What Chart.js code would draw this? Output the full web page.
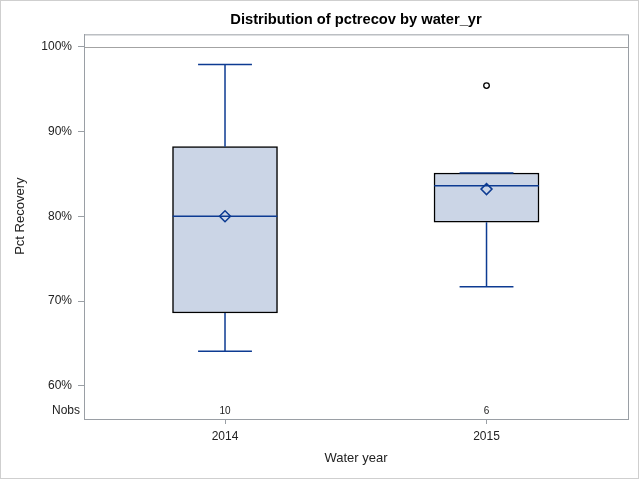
<!DOCTYPE html>
<html><head><meta charset="utf-8">
<script src="https://cdn.jsdelivr.net/npm/chart.js@4"></script>
<style>html,body{margin:0;padding:0;background:#fff}#wrap{width:640px;height:480px}</style>
</head><body><div id="wrap"><canvas id="c" width="640" height="480"></canvas></div>
<script>
// ---- data ----
const categories = ['2014', '2015'];
const whiskerLow = [64.1, 71.7];
const q1 = [68.6, 79.3];
const median = [80.0, 83.6];
const q3 = [88.2, 85.1];
const whiskerHigh = [97.9, 85.1];
const means = [80.0, 83.2];
const outliers = [[], [95.4]];
const nobs = [10, 6];
const yTicks = [60, 70, 80, 90, 100];
const refLine = 100;

// ---- style constants ----
const FONT = "'Liberation Sans', Arial, sans-serif";
const BLUE = '#0d3b92';
const FILL = '#cbd5e6';
const FRAME = '#9a9fa5';
const TEXT = '#222';
const BOX_HALF = 0.2, CAP_HALF = 0.103;

const catX = categories.map((c, i) => i + 1);

function segments() {
  const pts = [];
  const add = (x1, y1, x2, y2) => { pts.push({x: x1, y: y1}, {x: x2, y: y2}, {x: x2, y: null}); };
  catX.forEach((c, i) => {
    add(c, whiskerLow[i], c, q1[i]);
    add(c, q3[i], c, whiskerHigh[i]);
    add(c - CAP_HALF, whiskerLow[i], c + CAP_HALF, whiskerLow[i]);
    add(c - CAP_HALF, whiskerHigh[i], c + CAP_HALF, whiskerHigh[i]);
    add(c - BOX_HALF, median[i], c + BOX_HALF, median[i]);
  });
  return pts;
}

const outlierPts = [];
catX.forEach((c, i) => outliers[i].forEach(v => outlierPts.push({x: c, y: v})));

const decor = {
  id: 'decor',
  beforeDatasetsDraw(chart) {
    const {ctx, chartArea: a, scales: {y}} = chart;
    ctx.save();
    ctx.strokeStyle = '#a3a3a3';
    ctx.lineWidth = 1;
    const ry = Math.round(y.getPixelForValue(refLine)) + 0.5;
    ctx.beginPath(); ctx.moveTo(a.left, ry); ctx.lineTo(a.right, ry); ctx.stroke();
    ctx.restore();
  },
  afterDraw(chart) {
    const {ctx, chartArea: a, scales: {x}} = chart;
    ctx.save();
    ctx.strokeStyle = FRAME; ctx.lineWidth = 1;
    ctx.strokeRect(a.left + 0.5, a.top + 0.5, a.right - a.left, a.bottom - a.top);
    ctx.strokeStyle = '#cfcfcf';
    ctx.strokeRect(0.5, 0.5, 638, 478);
    // Nobs row
    ctx.fillStyle = TEXT;
    ctx.textBaseline = 'middle';
    ctx.font = '12px ' + FONT;
    ctx.textAlign = 'right';
    const ny = a.bottom - 8;
    ctx.fillText('Nobs', 80, ny);
    ctx.font = '10px ' + FONT;
    ctx.textAlign = 'center';
    catX.forEach((c, i) => ctx.fillText(String(nobs[i]), x.getPixelForValue(c), ny));
    // y axis title
    ctx.font = '13px ' + FONT;
    ctx.translate(20, (a.top + a.bottom - 21) / 2);
    ctx.rotate(-Math.PI / 2);
    ctx.fillText('Pct Recovery', 0, 0);
    ctx.restore();
  }
};

new Chart(document.getElementById('c'), {
  type: 'bar',
  data: {
    datasets: [
      {
        type: 'line', label: 'whiskers', data: segments(), borderColor: BLUE, borderWidth: 1.5,
        pointRadius: 0, spanGaps: false, fill: false, order: 1
      },
      {
        type: 'scatter', label: 'mean', data: catX.map((c, i) => ({x: c, y: means[i]})),
        pointStyle: 'rectRot', pointRadius: 5.5, borderColor: BLUE, backgroundColor: 'rgba(0,0,0,0)',
        borderWidth: 1.5, order: 0
      },
      {
        type: 'scatter', label: 'outliers', data: outlierPts,
        pointStyle: 'circle', pointRadius: 2.8, borderColor: '#000', backgroundColor: '#fff',
        borderWidth: 1.3, order: 0
      },
      {
        type: 'bar', label: 'box', data: catX.map((c, i) => ({x: c, y: [q1[i], q3[i]]})),
        backgroundColor: FILL, borderColor: '#000', borderWidth: 1.5, borderSkipped: false,
        barThickness: 105, order: 3
      }
    ]
  },
  options: {
    responsive: false, animation: false, devicePixelRatio: 1,
    layout: {padding: {left: 0, right: 12, top: 0, bottom: 0}},
    plugins: {
      legend: {display: false}, tooltip: {enabled: false},
      title: {
        display: true, text: 'Distribution of pctrecov by water_yr', fullSize: false,
        color: '#000', font: {family: FONT, size: 14.7, weight: 'bold'},
        padding: {top: 10.8, bottom: 5.9}
      }
    },
    scales: {
      x: {
        type: 'linear', min: 0.4608, max: 2.541, offset: false,
        afterBuildTicks: s => { s.ticks = catX.map(v => ({value: v})); },
        afterFit: s => { s.height = 61; },
        ticks: {callback: v => categories[v - 1], color: TEXT, font: {family: FONT, size: 12}, padding: 5, autoSkip: false, maxRotation: 0},
        grid: {display: true, offset: false, drawOnChartArea: false, drawTicks: true, tickLength: 5, color: FRAME},
        border: {display: true, color: FRAME},
        title: {display: true, text: 'Water year', color: TEXT, font: {family: FONT, size: 13}, padding: {top: 0, bottom: 14.2}}
      },
      y: {
        type: 'linear', min: 56.11, max: 101.44, beginAtZero: false,
        afterBuildTicks: s => { s.ticks = yTicks.map(v => ({value: v})); },
        afterFit: s => { s.width = 84; },
        ticks: {callback: v => v + '%', color: TEXT, font: {family: FONT, size: 12}, padding: 6},
        grid: {display: true, offset: false, drawOnChartArea: false, drawTicks: true, tickLength: 6, color: FRAME},
        border: {display: true, color: FRAME},
        title: {display: false}
      }
    }
  },
  plugins: [decor]
});
</script>
</body></html>
